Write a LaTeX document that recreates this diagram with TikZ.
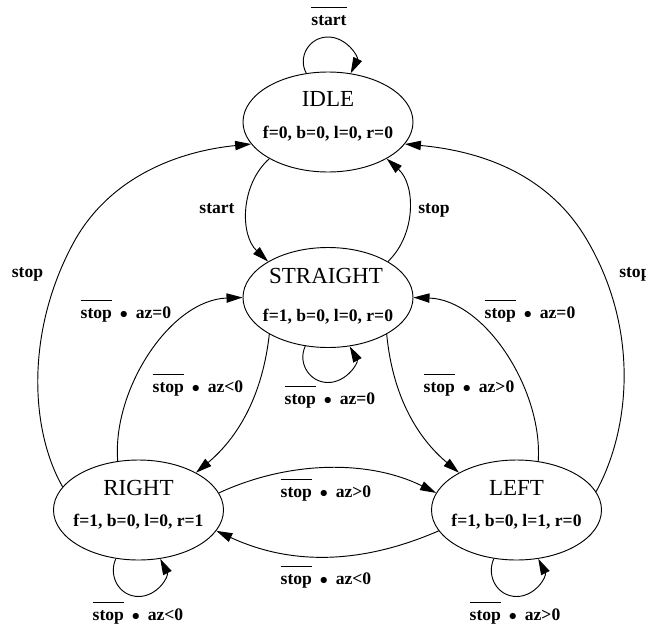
\documentclass[tikz,border=0pt]{standalone}
\usepackage{fontspec}
\setmainfont{Liberation Serif}
\usetikzlibrary{shapes.geometric,arrows.meta}
\newcommand{\ovl}[1]{\setbox0\hbox{#1}\rlap{\rule[1.0em]{\wd0}{0.6pt}}\box0}
\newcommand{\bsep}{\hspace{0.45em}$\bullet$\hspace{0.45em}}
\begin{document}
\begin{tikzpicture}[x=0.75pt,y=-0.75pt,
  stnode/.style={ellipse,draw,line width=0.7pt,minimum width=127.5pt,minimum height=75pt,inner sep=0pt},
  nm/.style={font=\fontsize{17.25}{20}\selectfont,anchor=base,inner sep=0pt},
  attr/.style={font=\fontsize{13.2}{16}\selectfont\bfseries,anchor=base,inner sep=0pt},
  lb/.style={font=\fontsize{13.2}{16}\selectfont\bfseries,anchor=base,inner sep=0pt},
  tr/.style={draw,line width=0.7pt,-{Triangle[length=12pt,width=7pt]}}]
\useasboundingbox (0,0) rectangle (646,625);
\node[stnode] (idle) at (328,122) {};
\node[stnode] (straight) at (328,297.5) {};
\node[stnode] (right) at (138.5,510) {};
\node[stnode] (left) at (516.5,510) {};
\node[nm] (idlen) at (328,106.5) {IDLE};
\node[attr] (idlea) at (328,138) {f=0, b=0, l=0, r=0};
\node[nm] (strn) at (326,283.5) {STRAIGHT};
\node[attr] (stra) at (328,321) {f=1, b=0, l=0, r=0};
\node[nm] (rightn) at (138.5,495.5) {RIGHT};
\node[attr] (righta) at (138.5,526) {f=1, b=0, l=0, r=1};
\node[nm] (leftn) at (516.5,495.5) {LEFT};
\node[attr] (lefta) at (516.5,526) {f=1, b=0, l=1, r=0};
% self loops
\draw[tr] (idle.114.5) .. controls (297.4,57.1) and (309.1,37) .. (328,37) .. controls (346.9,37) and (358.6,57.1) .. (idle.65.5);
\node[lb] (l1) at (329,25) {\ovl{start}};
\draw[tr] (straight.245.5) .. controls (297.4,362.4) and (309.1,382.5) .. (328,382.5) .. controls (346.9,382.5) and (358.6,362.4) .. (straight.294.5);
\node[lb] (l2) at (330,404) {\ovl{stop}\bsep az=0};
\draw[tr] (right.245.5) .. controls (107.9,576.4) and (119.6,596.5) .. (138.5,596.5) .. controls (157.4,596.5) and (169.1,576.4) .. (right.294.5);
\node[lb] (l3) at (138,620) {\ovl{stop}\bsep az<0};
\draw[tr] (left.245.5) .. controls (485.9,576.4) and (497.6,596.5) .. (516.5,596.5) .. controls (535.4,596.5) and (547.1,576.4) .. (left.294.5);
\node[lb] (l4) at (515,620) {\ovl{stop}\bsep az>0};
% idle <-> straight
\draw[tr] (idle.212) .. controls (240,185) and (240,235) .. (straight.149);
\node[lb] (l5) at (217,213) {start};
\draw[tr] (straight.31) .. controls (416,235) and (416,185) .. (idle.328);
\node[lb] (l6) at (434,213) {stop};
% straight <-> right / left
\draw[tr] (straight.212) .. controls (262,400) and (235,440) .. (right.33);
\node[lb] (l7) at (198,392) {\ovl{stop}\bsep az<0};
\draw[tr] (right.113.5) .. controls (112,390) and (170,300) .. (straight.180);
\node[lb] (l8) at (126,318) {\ovl{stop}\bsep az=0};
\draw[tr] (straight.328) .. controls (393,400) and (420,440) .. (left.147);
\node[lb] (l9) at (469,392) {\ovl{stop}\bsep az>0};
\draw[tr] (left.66.5) .. controls (543,390) and (485,300) .. (straight.0);
\node[lb] (l10) at (530,318) {\ovl{stop}\bsep az=0};
% right <-> left
\draw[tr] (right.12) .. controls (290,460) and (370,460) .. (left.168);
\node[lb] (l11) at (326,497) {\ovl{stop}\bsep az>0};
\draw[tr] (left.195) .. controls (360,565) and (290,565) .. (right.345);
\node[lb] (l12) at (326,584) {\ovl{stop}\bsep az<0};
% to idle
\draw[tr] (right.163) .. controls (30,430) and (25,330) .. (75,240) .. controls (115,170) and (190,150) .. (idle.196);
\node[lb] (l13) at (27.5,277) {stop};
\draw[tr] (left.13) .. controls (630,430) and (640,330) .. (587,240) .. controls (545,168) and (470,150) .. (idle.344);
\node[lb,anchor=base west] (l14) at (619,277) {stop};
\end{tikzpicture}
\end{document}
